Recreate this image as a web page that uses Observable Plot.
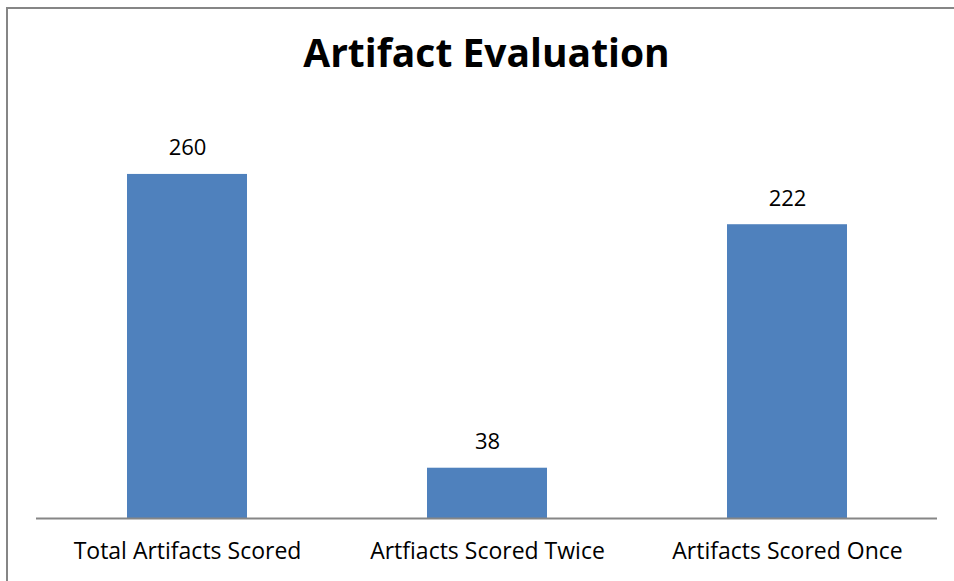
<!DOCTYPE html>
<html>
<head>
<meta charset="utf-8">
<script src="https://cdn.jsdelivr.net/npm/d3@7"></script>
<script src="https://cdn.jsdelivr.net/npm/@observablehq/plot@0.6"></script>
<style>
  html, body { margin: 0; padding: 0; background: #fff; width: 954px; height: 581px; overflow: hidden; }
  #page { position: relative; width: 954px; height: 581px; overflow: hidden; font-family: "Open Sans", sans-serif; }
  .edge { position: absolute; background: #868686; }
  #edge-left { left: 6px; top: 7px; width: 2px; height: 574px; }
  #edge-top { left: 6px; top: 7px; width: 948px; height: 2px; }
  #title { position: relative; height: 100px; box-sizing: border-box; padding-top: 32px;
           padding-left: 19px; text-align: center; font-size: 39px; line-height: 39px;
           font-weight: bold; color: #000; font-variant-ligatures: none; }
  #chart svg { display: block; }
</style>
</head>
<body>
<div id="page">
  <div class="edge" id="edge-left"></div>
  <div class="edge" id="edge-top"></div>
  <div id="title">Artifact Evaluation</div>
  <div id="chart"></div>
</div>
<script>
// Artifact counts by evaluation category
const categories = ["Total Artifacts Scored", "Artfiacts Scored Twice", "Artifacts Scored Once"];
const counts = [260, 38, 222];

const data = categories.map((c, i) => ({category: c, count: counts[i]}));

const chart = Plot.plot({
  width: 954,
  height: 481,
  marginLeft: 36,
  marginRight: 17,
  marginTop: 21,
  marginBottom: 63,
  style: {fontFamily: "'Open Sans', sans-serif", fontSize: "20px", color: "#000", background: "#fff"},
  x: {domain: categories, paddingInner: 0.6, paddingOuter: 0.3, label: null},
  y: {domain: [0, 300], axis: null},
  marks: [
    Plot.barY(data, {x: "category", y: "count", fill: "#4F81BD"}),
    Plot.ruleY([0], {stroke: "#868686", strokeWidth: 2}),
    Plot.text(data, {x: "category", y: "count", text: d => String(d.count), lineAnchor: "bottom", dy: -19, fontSize: 22, fill: "#000"}),
    Plot.axisX({tickSize: 0, tickPadding: 24, fontSize: 23, label: null, fill: "#000"})
  ]
});
document.getElementById("chart").append(chart);
</script>
</body>
</html>
